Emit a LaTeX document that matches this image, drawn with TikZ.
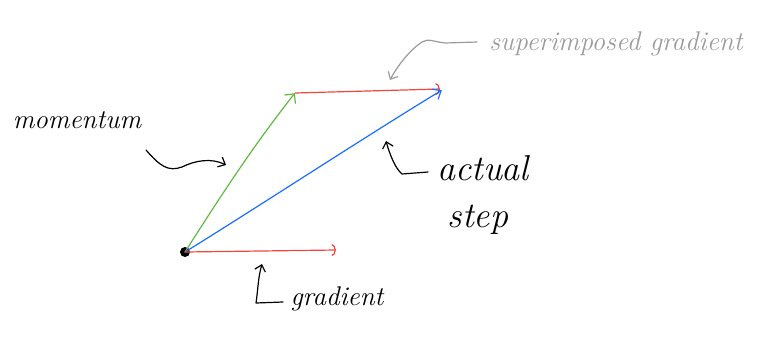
\documentclass[tikz,border=0pt]{standalone}
\usetikzlibrary{arrows.meta}
\definecolor{inkred}{RGB}{240,70,60}
\definecolor{inkgreen}{RGB}{95,187,63}
\definecolor{inkblue}{RGB}{25,110,255}
\definecolor{inkgray}{RGB}{155,155,155}
\begin{document}
\begin{tikzpicture}[x=1pt,y=-1pt,
  pen/.style={line width=1.2pt,line cap=round,line join=round},
  redpen/.style={pen,draw=inkred,-{Arc Barb[length=4pt,width=12pt,line width=1.2pt]}},
  greenpen/.style={pen,draw=inkgreen,-{Straight Barb[length=7pt,width=14pt]}},
  bluepen/.style={pen,draw=inkblue,-{Straight Barb[length=7pt,width=12pt]}},
  inkarrow/.style={pen,draw=black,-{Straight Barb[length=6pt,width=11pt]}},
  grayarrow/.style={pen,draw=inkgray,-{Straight Barb[length=6pt,width=11pt]}},
  hand/.style={font=\itshape\fontsize{27}{29}\selectfont,inner sep=0pt,anchor=base},
  bighand/.style={hand,font=\itshape\fontsize{36}{38}\selectfont},
  pt/.style={inner sep=0pt,minimum size=0pt}]
\useasboundingbox (0,0) rectangle (769,341);
% points
\node[circle,fill=black,minimum size=10pt,inner sep=0pt] (O) at (185,252) {};
\node[pt] (G) at (336,250) {};
\node[pt] (M) at (295,93) {};
\node[pt] (S) at (442,90) {};
\node[pt] (P) at (440,89) {};
% vectors
\draw[greenpen] (O.center) .. controls (215,205) and (250,150) .. (M);
\draw[redpen] (M) -- (P);
\draw[bluepen] (O.center) .. controls (250,212) and (360,140) .. (S);
\draw[redpen] (O.center) -- (G);
% labels
\node[hand] (tmom) at (77,128) {momentum};
\node[hand,text=inkgray] (tsup) at (616,50) {superimposed gradient};
\node[bighand] (tact) at (483,180) {actual};
\node[bighand] (tstep) at (478,227) {step};
\node[hand] (tgrad) at (337,305) {gradient};
% pointer arrows
\coordinate (a1) at (146,150);
\coordinate (a1e) at (226,165);
\draw[inkarrow] (a1) .. controls (160,166) and (168,172) .. (182,167) .. controls (196,160) and (212,158) .. (a1e);
\coordinate (b1) at (477,42);
\coordinate (b1e) at (390,80);
\draw[grayarrow] (b1) -- (445,43) .. controls (435,42) and (428,38) .. (422,42) .. controls (410,50) and (398,65) .. (b1e);
\coordinate (c1) at (428,172);
\coordinate (c1e) at (386,141);
\draw[inkarrow] (c1) -- (402,174) .. controls (395,168) and (390,155) .. (c1e);
\coordinate (d1) at (283,302);
\coordinate (d1e) at (262,264);
\draw[inkarrow] (d1) -- (256,303) .. controls (258,290) and (258,278) .. (d1e);
\end{tikzpicture}
\end{document}
